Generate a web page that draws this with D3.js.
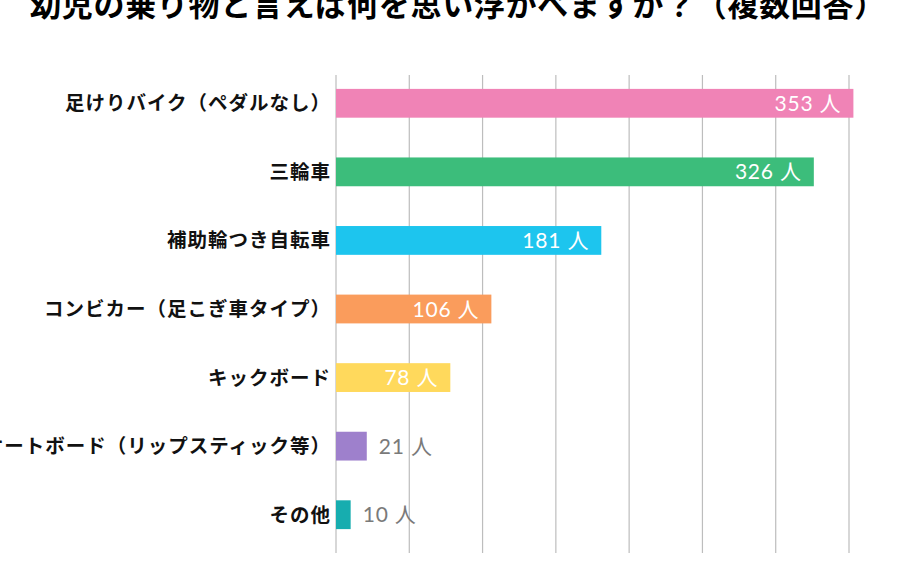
<!DOCTYPE html>
<html>
<head>
<meta charset="utf-8">
<script src="https://cdn.jsdelivr.net/npm/d3@7"></script>
<style>
  html, body { margin: 0; padding: 0; background: #fff; }
  #chart-container { width: 921px; height: 564px; }
</style>
</head>
<body>
<div id="chart-container"></div>
<script>
const title = "幼児の乗り物と言えば何を思い浮かべますか？（複数回答）";
const categories = [
  "足けりバイク（ペダルなし）",
  "三輪車",
  "補助輪つき自転車",
  "コンビカー（足こぎ車タイプ）",
  "キックボード",
  "スケートボード（リップスティック等）",
  "その他"
];
const values = [353, 326, 181, 106, 78, 21, 10];
const colors = ["#f083b6", "#3cbd7b", "#1dc5ee", "#fa9c5c", "#ffd95c", "#9e80cc", "#17adaf"];
const ticks = [0, 50, 100, 150, 200, 250, 300, 350];
const unit = "人";

const W = 921, H = 564;
const svg = d3.select("#chart-container")
  .append("svg")
  .attr("width", W)
  .attr("height", H);

const x = d3.scaleLinear()
  .domain([0, 350])
  .range([336, 849]);

const y = d3.scaleBand()
  .domain(categories)
  .range([69, 549])
  .paddingInner(0.58)
  .paddingOuter(0.29);

const data = categories.map((c, i) => ({ cat: c, value: values[i], color: colors[i] }));

// title (its top runs off the page, as in the source)
svg.append("text")
  .attr("x", 458)
  .attr("y", 16)
  .attr("text-anchor", "middle")
  .style("font-family", "'Noto Sans CJK JP'")
  .style("font-weight", "bold")
  .style("font-size", "31px")
  .style("letter-spacing", "0.7px")
  .attr("fill", "#000")
  .text(title);

// vertical grid
svg.append("g")
  .selectAll("line")
  .data(ticks)
  .join("line")
  .attr("x1", d => x(d)).attr("x2", d => x(d))
  .attr("y1", 75).attr("y2", 553)
  .attr("stroke", "#bdbdbd")
  .attr("stroke-width", 1.2);

// category labels
svg.append("g")
  .selectAll("text")
  .data(data)
  .join("text")
  .attr("x", 331)
  .attr("y", d => y(d.cat) + y.bandwidth() / 2)
  .attr("dy", "0.36em")
  .attr("text-anchor", "end")
  .style("font-family", "'Noto Sans CJK JP'")
  .style("font-weight", "bold")
  .style("font-size", "19.5px")
  .style("letter-spacing", "1px")
  .attr("fill", "#111")
  .text(d => d.cat);

// bars
svg.append("g")
  .selectAll("rect")
  .data(data)
  .join("rect")
  .attr("x", x(0))
  .attr("y", d => y(d.cat))
  .attr("width", d => x(d.value) - x(0))
  .attr("height", y.bandwidth())
  .attr("fill", d => d.color);

// value labels: white inside long bars, grey after short ones
const inside = d => d.value >= 50;
svg.append("g")
  .selectAll("text")
  .data(data)
  .join("text")
  .attr("x", d => inside(d) ? x(d.value) - 12 : x(d.value) + 12)
  .attr("y", d => y(d.cat) + y.bandwidth() / 2)
  .attr("dy", "0.36em")
  .attr("text-anchor", d => inside(d) ? "end" : "start")
  .style("font-family", "Lato, 'Noto Sans CJK JP'")
  .style("font-size", "21px")
  .style("letter-spacing", "0.8px")
  .attr("fill", d => inside(d) ? "#fff" : "#7a7a7a")
  .text(d => `${d.value} ${unit}`);
</script>
</body>
</html>
